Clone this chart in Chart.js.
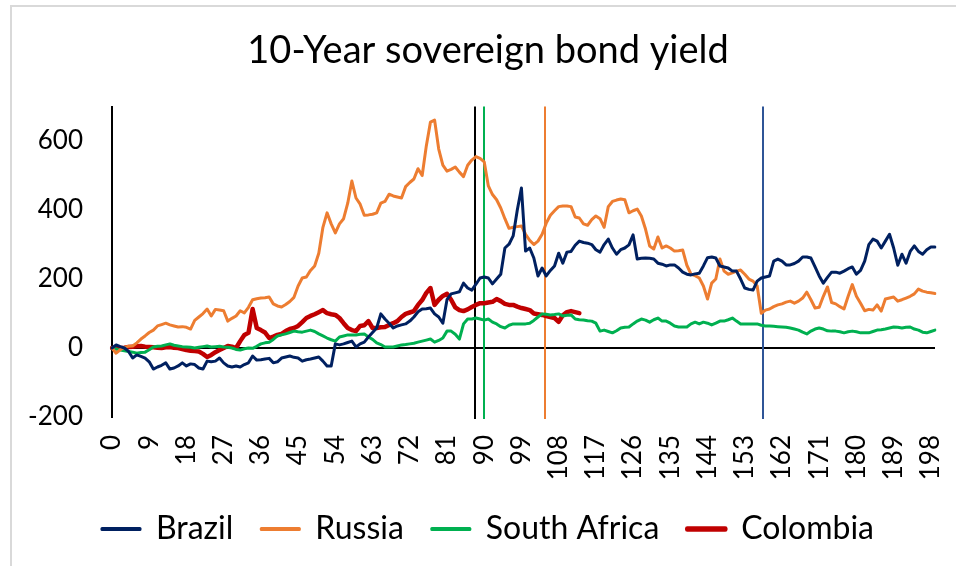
<!DOCTYPE html>
<html>
<head>
<meta charset="utf-8">
<script src="https://cdn.jsdelivr.net/npm/chart.js@4/dist/chart.umd.min.js"></script>
<style>
  html, body { margin: 0; padding: 0; background: #fff; }
  #wrap { position: relative; width: 956px; height: 566px; }
  #frame { position: absolute; left: 10px; top: 5px; width: 960px; height: 580px;
           border-left: 2px solid #d9d9d9; border-top: 2px solid #d9d9d9; }
  #chart { position: absolute; left: 0; top: 0; }
</style>
</head>
<body>
<div id="wrap">
  <div id="frame"></div>
  <canvas id="chart" width="956" height="566"></canvas>
</div>
<script>
// categories: days 0..199
const days = Array.from({ length: 200 }, (_, i) => String(i));

// spread change, bp
const brazil = [
  0, 9, 4, 0, -10, -29, -20, -24, -29, -40, -61, -55, -50, -43, -61, -58, -52, -43, -52, -46,
  -48, -58, -61, -38, -40, -38, -29, -43, -52, -55, -52, -55, -48, -43, -23, -35, -34, -32, -30, -43,
  -40, -29, -26, -23, -27, -29, -38, -34, -32, -29, -26, -38, -52, -52, 12, 9, 12, 16, 20, 3,
  12, 17, 32, 45, 58, 99, 84, 72, 58, 64, 67, 70, 78, 90, 105, 113, 114, 116, 99, 90,
  72, 140, 157, 160, 163, 188, 174, 168, 185, 203, 206, 203, 186, 200, 214, 290, 301, 325, 400, 464,
  281, 290, 261, 209, 232, 209, 225, 238, 275, 246, 278, 280, 298, 310, 306, 304, 300, 285, 278, 300,
  316, 290, 272, 285, 290, 299, 328, 258, 260, 261, 260, 258, 246, 243, 238, 241, 241, 232, 220, 214,
  212, 215, 217, 238, 262, 264, 261, 238, 235, 232, 223, 223, 200, 174, 170, 168, 194, 203, 206, 209,
  252, 258, 252, 241, 241, 245, 252, 264, 264, 261, 235, 209, 188, 205, 220, 220, 217, 223, 230, 235,
  214, 225, 252, 300, 316, 310, 290, 310, 330, 290, 240, 272, 246, 280, 296, 280, 272, 285, 293, 293
];
const russia = [
  0, -15, -5, 2, 5, 6, 15, 26, 35, 45, 52, 64, 68, 72, 67, 64, 61, 62, 60, 55,
  80, 90, 100, 113, 93, 112, 110, 108, 78, 86, 93, 108, 102, 118, 140, 143, 145, 146, 148, 128,
  122, 119, 126, 135, 147, 180, 203, 206, 225, 238, 275, 350, 392, 360, 334, 360, 375, 420, 484, 435,
  417, 385, 386, 388, 392, 420, 425, 446, 441, 438, 435, 468, 480, 490, 520, 500, 586, 655, 661, 577,
  530, 513, 518, 525, 510, 497, 530, 545, 555, 550, 540, 470, 445, 430, 406, 375, 347, 350, 352, 354,
  330, 312, 300, 310, 330, 362, 385, 398, 410, 412, 412, 410, 380, 377, 360, 356, 372, 383, 375, 350,
  410, 425, 429, 432, 430, 392, 398, 403, 383, 345, 296, 287, 322, 290, 296, 290, 281, 282, 284, 240,
  214, 210, 203, 180, 142, 188, 200, 258, 223, 214, 218, 223, 226, 214, 200, 194, 180, 101, 110, 113,
  120, 125, 128, 133, 136, 130, 136, 145, 162, 140, 116, 118, 150, 177, 132, 128, 120, 113, 150, 184,
  150, 130, 108, 112, 110, 125, 107, 142, 145, 148, 136, 140, 145, 150, 157, 171, 165, 162, 160, 158
];
const southAfrica = [
  0, -3, -6, -8, -10, -12, -15, -13, -12, -5, 3, 5, 6, 9, 12, 8, 6, 4, 3, 2,
  0, 2, 4, 6, 3, 4, 5, 3, 2, 0, -4, -6, -2, 0, -1, 5, 12, 15, 17, 25,
  35, 38, 41, 45, 49, 47, 46, 49, 52, 48, 41, 35, 29, 24, 20, 32, 35, 38, 38, 38,
  40, 41, 32, 25, 15, 10, 3, 3, 3, 6, 9, 10, 12, 14, 17, 20, 23, 26, 17, 22,
  29, 49, 49, 40, 26, 70, 84, 84, 87, 84, 81, 84, 75, 70, 62, 58, 66, 70, 70, 70,
  70, 72, 80, 90, 99, 98, 96, 97, 99, 93, 95, 96, 84, 82, 81, 79, 78, 72, 49, 52,
  48, 44, 50, 58, 60, 61, 70, 78, 84, 81, 75, 82, 87, 78, 78, 72, 64, 61, 61, 61,
  70, 75, 70, 75, 72, 67, 72, 78, 78, 82, 87, 78, 70, 70, 70, 70, 70, 66, 64, 64,
  63, 62, 61, 60, 58, 55, 52, 46, 41, 49, 55, 58, 55, 50, 49, 49, 47, 44, 47, 49,
  47, 44, 44, 44, 48, 52, 53, 55, 58, 61, 60, 58, 60, 61, 55, 52, 46, 44, 48, 52
];
const colombia = [
  0, 0, 0, 1, 3, 4, 5, 6, 4, 3, 2, 1, 0, 2, 3, 1, 0, -3, -6, -8,
  -9, -10, -17, -26, -20, -12, -6, 0, 6, 4, 0, 20, 38, 44, 113, 58, 52, 45, 29, 33,
  38, 41, 49, 55, 58, 64, 75, 87, 93, 98, 104, 110, 101, 98, 96, 87, 72, 58, 52, 49,
  64, 66, 78, 58, 58, 60, 61, 67, 72, 78, 90, 99, 103, 107, 125, 139, 160, 174, 125, 140,
  151, 157, 140, 118, 110, 107, 112, 119, 125, 130, 130, 132, 134, 142, 136, 128, 125, 125, 120, 116,
  113, 110, 100, 98, 96, 93, 90, 87, 76, 95, 104, 107, 104, 101
];

// event markers (day index, colour)
const eventDays = [87.7, 90, 104.6, 157.4];
const eventColors = ['#000000', '#00B050', '#ED7D31', '#2F5597'];

const yTicks = [-200, 0, 200, 400, 600];

const eventLines = {
  id: 'eventLines',
  beforeDatasetsDraw(chart) {
    const { ctx, chartArea, scales } = chart;
    ctx.save();
    eventDays.forEach((d, i) => {
      const x = Math.round(scales.x.getPixelForValue(d));
      ctx.strokeStyle = eventColors[i];
      ctx.lineWidth = 2;
      ctx.beginPath();
      ctx.moveTo(x, chartArea.top);
      ctx.lineTo(x, chartArea.bottom + 2);
      ctx.stroke();
    });
    ctx.restore();
  }
};

const font = "'Lato', 'Open Sans', sans-serif";

new Chart(document.getElementById('chart'), {
  type: 'line',
  data: {
    labels: days,
    datasets: [
      { label: 'Brazil', data: brazil, borderColor: '#002060', backgroundColor: '#002060', borderWidth: 3 },
      { label: 'Russia', data: russia, borderColor: '#ED7D31', backgroundColor: '#ED7D31', borderWidth: 3 },
      { label: 'South Africa', data: southAfrica, borderColor: '#00B050', backgroundColor: '#00B050', borderWidth: 3 },
      { label: 'Colombia', data: colombia, borderColor: '#C00000', backgroundColor: '#C00000', borderWidth: 4.5 }
    ]
  },
  options: {
    responsive: false,
    animation: false,
    elements: { point: { radius: 0 }, line: { tension: 0, borderJoinStyle: 'round', borderCapStyle: 'round' } },
    layout: { padding: { left: 20, right: 0, top: 0, bottom: 11 } },
    plugins: {
      title: {
        display: true,
        text: '10-Year sovereign bond yield',
        color: '#000',
        font: { family: font, size: 38, weight: 'normal' },
        padding: { top: 28, bottom: 33 }
      },
      legend: {
        position: 'bottom',
        labels: {
          color: '#000',
          font: { family: font, size: 32 },
          boxWidth: 38,
          boxHeight: 1,
          padding: 28
        }
      },
      tooltip: { enabled: false }
    },
    scales: {
      x: {
        grid: { display: false },
        border: { display: false },
        ticks: {
          color: '#000',
          font: { family: font, size: 26 },
          autoSkip: false,
          maxRotation: 90,
          minRotation: 90,
          padding: 10,
          callback: (v, i) => (i % 9 === 0 ? days[i] : '')
        },
        afterFit: (s) => { s.height = 68; s.paddingLeft = 0; s.paddingRight = 21; }
      },
      y: {
        min: -200,
        max: 700,
        afterBuildTicks: (s) => { s.ticks = yTicks.map(v => ({ value: v })); },
        grid: {
          drawTicks: false,
          lineWidth: 2,
          color: (c) => (c.tick && c.tick.value === 0 ? '#000' : 'rgba(0,0,0,0)')
        },
        border: { display: true, color: '#000', width: 2 },
        ticks: {
          color: '#000',
          font: { family: font, size: 26 },
          padding: 29
        },
        afterFit: (s) => { s.width = 92; }
      }
    }
  },
  plugins: [eventLines]
});
</script>
</body>
</html>
